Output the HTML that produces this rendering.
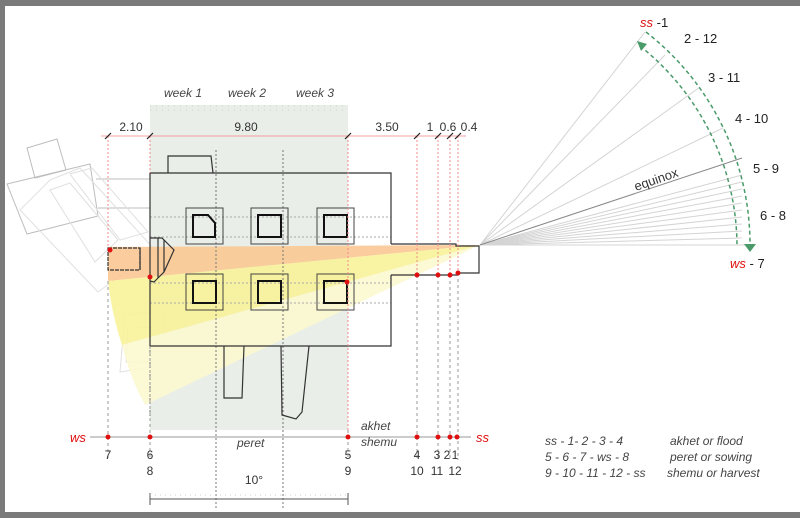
<!DOCTYPE html>
<html><head><meta charset="utf-8"><style>
html,body{margin:0;padding:0;background:#fff}
svg{display:block}
text{font-family:"Liberation Sans",sans-serif}
</style></head><body>
<svg width="800" height="518" viewBox="0 0 800 518" xmlns="http://www.w3.org/2000/svg">
<rect width="800" height="518" fill="#fff"/>
<rect x="0" y="0" width="800" height="6" fill="#7a7a7a"/>
<rect x="0" y="0" width="5" height="518" fill="#7a7a7a"/>
<rect x="0" y="512" width="800" height="6" fill="#7a7a7a"/>

<rect x="150" y="105" width="198" height="325" fill="#e9eee8"/>
<g stroke="#ccd3cb" stroke-width="1">
<line x1="150" y1="106" x2="348" y2="106" stroke-dasharray="1,5"/>
<line x1="150" y1="110" x2="348" y2="110" stroke-dasharray="1,5"/>
</g>

<!-- ghost left shapes -->
<g fill="none" stroke="#bdbdbd" stroke-width="1">
<polygon points="27,148 57,139 66,170 35,178"/>
<polygon points="7,184 90,164 98,216 27,234"/>
<line x1="96" y1="179" x2="150" y2="179"/>
<line x1="98" y1="208" x2="150" y2="208"/>
</g>
<g fill="none" stroke="#e0e0e0" stroke-width="1">
<polygon points="50,180 80,168 155,250 98,292 20,210"/>
<polygon points="50,190 70,183 118,240 95,262"/>
<polygon points="70,174 92,168 148,232 120,240"/>
<polygon points="125,315 165,310 165,365 120,372"/>
<polygon points="128,328 240,325 243,360 126,362"/>
</g>

<polygon points="108,247 480,245 108,281" fill="#fbc894" opacity="0.9"/>
<path d="M108,281 L480,245 L122,345 Q112,315 108,281 Z" fill="#f8f29a" opacity="0.9"/>
<path d="M122,345 L480,245 L145,405 Q130,378 122,345 Z" fill="#fcf8d0" opacity="0.9"/>

<g stroke="#777" stroke-width="1" stroke-dasharray="2,2">
<line x1="216" y1="150" x2="216" y2="510"/>
<line x1="283" y1="150" x2="283" y2="510"/>
<line x1="150" y1="246" x2="150" y2="420"/>
</g>
<g stroke="#aaa" stroke-width="1" stroke-dasharray="2,2">
<line x1="150" y1="217" x2="391" y2="217"/>
<line x1="150" y1="237" x2="391" y2="237"/>
<line x1="150" y1="283" x2="391" y2="283"/>
<line x1="150" y1="303" x2="391" y2="303"/>
</g>

<g fill="none" stroke="#333" stroke-width="1.2">
<polyline points="168,173 168,156 211,156 213,173"/>
<polyline points="391,244 391,173 150,173 150,346 391,346 391,275"/>
<polyline points="391,244 456,244 456,246 479,246 479,273 458,273 458,275 391,275"/>
<polyline points="224,346 224,398 242,398 244,346"/>
<polyline points="281,346 282,415 296,419 302,412 309,346"/>
<path d="M150,238 L162,238 L174,250 L164,272 L154,282 L150,281" />
<line x1="158" y1="238" x2="158" y2="278"/>
<line x1="164" y1="240" x2="164" y2="272"/>
<rect x="108" y="248" width="32" height="22" stroke-dasharray="4,1"/>
<line x1="140" y1="248" x2="140" y2="270"/>
</g>
<g fill="none" stroke="#444" stroke-width="1">
<rect x="186" y="208" width="37" height="36"/>
<rect x="251" y="208" width="37" height="36"/>
<rect x="317" y="208" width="37" height="36"/>
<rect x="186" y="274" width="37" height="36"/>
<rect x="251" y="274" width="37" height="36"/>
<rect x="317" y="274" width="37" height="36"/>
</g>
<g fill="none" stroke="#111" stroke-width="2">
<path d="M193,215 L208,215 L215,223 L215,237 L193,237 Z"/>
<rect x="258" y="215" width="23" height="22"/>
<rect x="324" y="215" width="23" height="22"/>
<rect x="193" y="281" width="23" height="22"/>
<rect x="258" y="281" width="23" height="22"/>
<rect x="324" y="281" width="23" height="22"/>
</g>

<g stroke="#f08a8a" stroke-width="1" stroke-dasharray="2,2">
<line x1="108" y1="136" x2="108" y2="248"/>
<line x1="150" y1="136" x2="150" y2="173"/>
<line x1="348" y1="136" x2="348" y2="430"/>
<line x1="417" y1="136" x2="417" y2="275"/>
<line x1="438" y1="136" x2="438" y2="275"/>
<line x1="450" y1="136" x2="450" y2="275"/>
<line x1="458" y1="136" x2="458" y2="273"/>
</g>
<g stroke="#999" stroke-width="1" stroke-dasharray="3,3">
<line x1="108" y1="281" x2="108" y2="460"/>
<line x1="150" y1="346" x2="150" y2="460"/>
<line x1="348" y1="430" x2="348" y2="460"/>
<line x1="417" y1="275" x2="417" y2="460"/>
<line x1="438" y1="275" x2="438" y2="460"/>
<line x1="450" y1="275" x2="450" y2="460"/>
<line x1="458" y1="273" x2="458" y2="460"/>
</g>
<line x1="101" y1="136" x2="466" y2="136" stroke="#f4a0a0" stroke-width="1"/>
<g stroke="#222" stroke-width="1.2">
<line x1="105" y1="139" x2="111" y2="133"/><line x1="147" y1="139" x2="153" y2="133"/>
<line x1="345" y1="139" x2="351" y2="133"/><line x1="414" y1="139" x2="420" y2="133"/>
<line x1="435" y1="139" x2="441" y2="133"/><line x1="447" y1="139" x2="453" y2="133"/>
<line x1="455" y1="139" x2="461" y2="133"/>
</g>
<g fill="#333" font-size="12" text-anchor="middle">
<text x="131" y="131">2.10</text><text x="246" y="131">9.80</text>
<text x="387" y="131">3.50</text><text x="430" y="131">1</text>
<text x="448" y="131">0.6</text><text x="469" y="131">0.4</text>
</g>
<g fill="#444" font-size="12" font-style="italic" text-anchor="middle">
<text x="183" y="97">week 1</text><text x="247" y="97">week 2</text><text x="315" y="97">week 3</text>
</g>
<g fill="#e01010">
<circle cx="110" cy="250" r="2.5"/><circle cx="150" cy="277" r="2.5"/><circle cx="347" cy="282" r="2.5"/>
<circle cx="417" cy="275" r="2.5"/><circle cx="438" cy="275" r="2.5"/><circle cx="450" cy="275" r="2.5"/><circle cx="458" cy="273" r="2.5"/>
</g>

<g stroke="#d4d4d4" stroke-width="1">
<line x1="480" y1="245" x2="645" y2="32"/>
<line x1="480" y1="245" x2="665" y2="55"/>
<line x1="480" y1="245" x2="700" y2="87"/>
<line x1="480" y1="245" x2="723" y2="128"/>
<line x1="480" y1="245" x2="742" y2="175"/>
<line x1="480" y1="245" x2="742" y2="182"/>
<line x1="480" y1="245" x2="742" y2="189"/>
<line x1="480" y1="245" x2="742" y2="196"/>
<line x1="480" y1="245" x2="742" y2="203"/>
<line x1="480" y1="245" x2="742" y2="210"/>
<line x1="480" y1="245" x2="742" y2="217"/>
<line x1="480" y1="245" x2="742" y2="224"/>
<line x1="480" y1="245" x2="742" y2="231"/>
<line x1="480" y1="245" x2="742" y2="238"/>
<line x1="480" y1="245" x2="750" y2="245"/>
</g>
<line x1="480" y1="245" x2="742" y2="158" stroke="#888" stroke-width="1"/>
<text x="0" y="0" font-size="13" fill="#333" transform="translate(636,191) rotate(-19)">equinox</text>
<g fill="none" stroke="#4a9a6a" stroke-width="1.5" stroke-dasharray="4,3">
<path d="M646,32 A270,270 0 0 1 750,242"/>
<path d="M640,46 A257,257 0 0 1 737,245"/>
</g>
<polygon points="637,41 647,44 641,51" fill="#4a9a6a"/>
<polygon points="744,244 756,244 750,252" fill="#4a9a6a"/>
<g font-size="13" fill="#222">
<text x="640" y="27"><tspan fill="#e01010" font-style="italic">ss</tspan> -1</text>
<text x="684" y="43">2 - 12</text>
<text x="708" y="82">3 - 11</text>
<text x="735" y="123">4 - 10</text>
<text x="753" y="173">5 - 9</text>
<text x="760" y="220">6 - 8</text>
<text x="730" y="268"><tspan fill="#e01010" font-style="italic">ws</tspan> - 7</text>
</g>

<line x1="90" y1="437" x2="471" y2="437" stroke="#999" stroke-width="1"/>
<g fill="#e01010">
<circle cx="108" cy="437" r="2.5"/><circle cx="150" cy="437" r="2.5"/><circle cx="348" cy="437" r="2.5"/>
<circle cx="417" cy="437" r="2.5"/><circle cx="438" cy="437" r="2.5"/><circle cx="450" cy="437" r="2.5"/><circle cx="457" cy="437" r="2.5"/>
</g>
<g font-size="13" fill="#e01010" font-style="italic">
<text x="70" y="442">ws</text><text x="476" y="442">ss</text>
</g>
<g font-size="12" fill="#333" text-anchor="middle">
<text x="108" y="459">7</text><text x="150" y="459">6</text><text x="150" y="475">8</text>
<text x="348" y="459">5</text><text x="348" y="475">9</text>
<text x="417" y="459">4</text><text x="417" y="475">10</text>
<text x="437" y="459">3</text><text x="437" y="475">11</text>
<text x="447" y="459">2</text><text x="455" y="459">1</text><text x="455" y="475">12</text>
<text x="254" y="484">10°</text>
</g>
<g font-size="12" fill="#444" font-style="italic">
<text x="361" y="430">akhet</text><text x="361" y="446">shemu</text>
<text x="237" y="447">peret</text>
<text x="545" y="445">ss - 1- 2 - 3 - 4</text>
<text x="545" y="461">5 - 6 - 7 - ws - 8</text>
<text x="545" y="477">9 - 10 - 11 - 12 - ss</text>
<text x="670" y="445">akhet or flood</text>
<text x="670" y="461">peret or sowing</text>
<text x="667" y="477">shemu or harvest</text>
</g>
<g stroke="#555" stroke-width="1">
<line x1="150" y1="499" x2="348" y2="499"/>
<line x1="150" y1="493" x2="150" y2="505"/>
<line x1="348" y1="493" x2="348" y2="505"/>
</g>
<line x1="150" y1="495" x2="348" y2="495" stroke="#ccc" stroke-dasharray="1,4"/>
</svg>
</body></html>
